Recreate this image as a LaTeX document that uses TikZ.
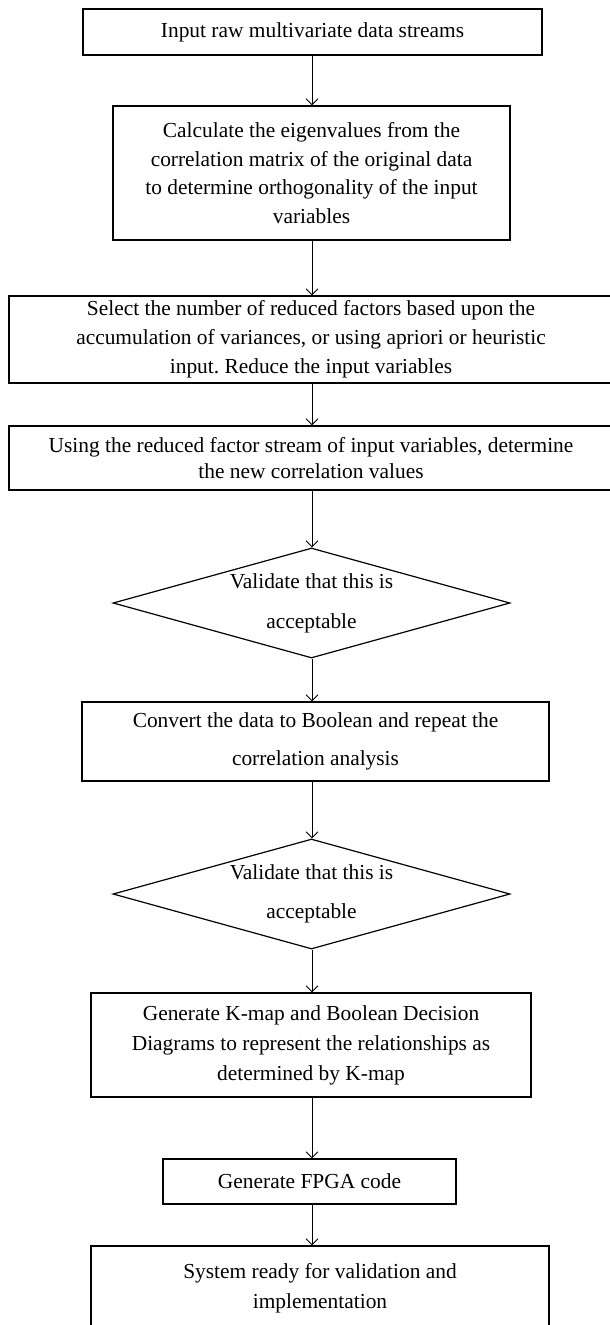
\documentclass[tikz,border=0pt]{standalone}
\usepackage{fontspec}
\setmainfont{Liberation Serif}
\frenchspacing
\usetikzlibrary{shapes.geometric,arrows.meta}
\tikzset{
  flowbox/.style={draw=black, line width=1.2pt, rectangle, inner sep=0pt, align=center},
  decide/.style={draw=black, line width=1.2pt, diamond, aspect=3.6, inner sep=0pt, align=center,
                 minimum width=397pt, minimum height=110pt},
  flowarrow/.style={draw=black, line width=0.9pt, -{Straight Barb[length=6pt,width=12pt,line width=0.9pt]}},
}
\newcommand{\txt}[1]{\fontsize{21.4}{#1}\selectfont}
\begin{document}
\begin{tikzpicture}[x=1pt,y=-1pt]
\useasboundingbox (0,0) rectangle (610,1325);
\coordinate (spine) at (312,0);

\node[flowbox, minimum width=459pt, minimum height=46pt, font=\txt{26}] (n1) at (312.5,32)
  {Input raw multivariate data streams};
\node[flowbox, minimum width=397pt, minimum height=134pt, font=\txt{28.5}] (n2) at (311.5,173)
  {Calculate the eigenvalues from the\\correlation matrix of the original data\\to determine orthogonality of the input\\variables};
\node[flowbox, minimum width=604pt, minimum height=87pt, font=\txt{29}] (n3) at (311,339.5)
  {Select the number of reduced factors based upon the\\accumulation of variances, or using apriori or heuristic\\input. Reduce the input variables};
\node[flowbox, minimum width=604pt, minimum height=64pt, font=\txt{26}] (n4) at (311,458)
  {Using the reduced factor stream of input variables, determine\\the new correlation values};
\node[decide, font=\txt{40}] (d1) at (311.5,603)
  {Validate that this is\\acceptable};
\node[flowbox, minimum width=467pt, minimum height=79pt, font=\txt{38}] (n5) at (315.5,741.5)
  {Convert the data to Boolean and repeat the\\correlation analysis};
\node[decide, font=\txt{39}] (d2) at (311.5,894)
  {Validate that this is\\acceptable};
\node[flowbox, minimum width=440pt, minimum height=104pt, font=\txt{30}] (n6) at (311,1045)
  {Generate K-map and Boolean Decision\\Diagrams to represent the relationships as\\determined by K-map};
\node[flowbox, minimum width=293pt, minimum height=45pt, font=\txt{26}] (n7) at (309.5,1181.5)
  {Generate FPGA code};
\node[flowbox, minimum width=458pt, minimum height=84pt, font=\txt{30}] (n8) at (320,1288)
  {System ready for validation and\\implementation};

\foreach \a/\b in {n1/n2,n2/n3,n3/n4,n4/d1,d1/n5,n5/d2,d2/n6,n6/n7,n7/n8}
  \draw[flowarrow] (\a.south -| spine) -- (\b.north -| spine);
\end{tikzpicture}
\end{document}
